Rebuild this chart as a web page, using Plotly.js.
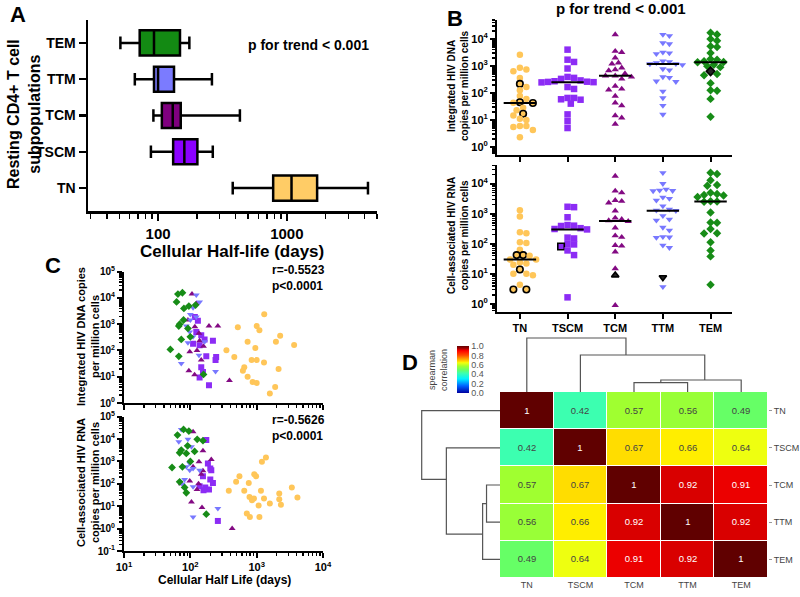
<!DOCTYPE html>
<html>
<head>
<meta charset="utf-8">
<script src="https://cdn.plot.ly/plotly-3.0.1.min.js"></script>
<style>
  html, body { margin: 0; padding: 0; background: #fff; }
  #fig { width: 800px; height: 597px; }
</style>
</head>
<body>
<div id="fig"></div>
<script>
var W = 800, H = 597;
var FONT = 'Liberation Sans, Arial, sans-serif';

// ---- data ----
var subsets = ['TN', 'TSCM', 'TCM', 'TTM', 'TEM'];
var dotColors = ['#ffc659', '#8c2cf5', '#830a83', '#7878ff', '#178c17'];
var boxColors = ['#ffcc66', '#8b00ff', '#7f007f', '#7b7bff', '#138a13'];
var symbols = ['circle', 'square', 'triangle-up', 'triangle-down', 'diamond'];

// A: cellular half-life (days), box stats per subset
var hlLow = [380, 88, 92, 66, 51];
var hlQ1 = [783, 131, 107, 93, 72];
var hlMed = [1087, 160, 130, 100, 93];
var hlQ3 = [1718, 202, 150, 133, 148];
var hlHigh = [4265, 266, 432, 262, 175];

// B: integrated HIV DNA per subset
var dnaTN = [2600, 850, 730, 630, 360, 215, 165, 125, 76, 60, 45, 43, 42, 28, 23, 17, 14.5, 11, 10, 6, 6, 5.5, 4.2, 2.3];
var dnaTSCM = [4000, 1700, 1400, 800, 390, 360, 330, 290, 270, 260, 255, 250, 245, 165, 140, 65, 65, 58, 56, 40, 16, 9, 5];
var dnaTCM = [14500, 3500, 3200, 2000, 1300, 1200, 850, 730, 670, 520, 430, 430, 390, 330, 180, 140, 130, 76, 43, 34, 14.5, 12, 7];
var dnaTTM = [14500, 13000, 7100, 6500, 3200, 3000, 2800, 1500, 1400, 1300, 1200, 1180, 1100, 770, 700, 390, 370, 270, 260, 115, 65, 34, 16];
var dnaTEM = [16800, 14500, 10000, 8500, 5300, 5000, 3000, 1800, 1700, 1500, 1400, 1370, 1100, 980, 900, 630, 500, 450, 230, 125, 120, 60, 13];
var dnaOutlined = [[5, 10, 12, 15], [], [], [], [15]];
var dnaDark = [[], [], [], [], [15]];

// B: cell-associated HIV RNA per subset
var rnaTN = [1300, 800, 240, 225, 112, 105, 63, 42, 42, 40, 30, 30, 24, 22, 20, 14, 10, 10, 9, 4.3, 3, 3];
var rnaTSCM = [1700, 1650, 760, 420, 400, 390, 330, 310, 300, 160, 150, 98, 95, 81, 60, 42, 1.65];
var rnaTCM = [17800, 5700, 5000, 2800, 2600, 2300, 1250, 720, 650, 590, 560, 340, 185, 165, 89, 85, 54, 15, 9, 0.9];
var rnaTTM = [23000, 10000, 6500, 6000, 5800, 5700, 3500, 3200, 2800, 1800, 1400, 1300, 1260, 850, 650, 600, 350, 280, 170, 165, 160, 89, 74, 7.6, 3.7];
var rnaTEM = [23000, 21000, 13000, 9000, 8500, 5000, 4500, 4200, 4000, 3600, 2600, 2560, 2500, 1100, 510, 500, 310, 225, 220, 112, 60, 38, 4.3];
var rnaOutlined = [[7, 8, 15, 20, 21], [13], [18], [23], []];
var rnaDark = [[], [], [18], [23], []];

// C: half-life vs DNA
var cDnaHl = [
  [1300, 520, 1000, 1100, 2260, 1950, 730, 955, 3670, 350, 460, 840, 1000, 1290, 2140, 650, 620, 730, 870, 1000, 1900, 1580],
  [123, 146, 164, 219, 110, 138, 174, 245, 240, 146, 155, 138, 191, 130, 117],
  [106, 123, 92, 117, 191, 260, 135, 138, 158, 98, 95, 116, 389, 146, 126],
  [123, 138, 110, 100, 123, 100, 87, 98, 110, 92, 135, 73, 240, 164],
  [76, 65, 62, 95, 80, 120, 79, 69, 67, 92, 100, 73, 50, 67, 158]
];
var cDnaVal = [
  [2400, 760, 850, 590, 360, 215, 215, 125, 160, 102, 57, 43, 43, 35, 19.5, 23, 17, 10, 6.3, 5.8, 4.1, 2.3],
  [510, 380, 263, 234, 182, 158, 60, 57, 43, 23, 15, 9.3, 4.7, 1350, 1900],
  [14000, 6200, 1450, 800, 850, 850, 450, 234, 145, 89, 17, 12, 7.2, 43, 100],
  [12900, 7080, 4270, 2340, 1900, 1450, 850, 510, 330, 195, 66, 32, 16, 214],
  [15800, 14100, 7080, 4900, 3980, 5370, 1450, 1000, 850, 690, 330, 263, 110, 60, 12.3]
];
// C: half-life vs RNA
var cRnaHl = [
  [1380, 1200, 550, 920, 980, 760, 490, 380, 650, 1160, 3390, 2190, 780, 850, 910, 1290, 1580, 2190, 2320, 1070, 4120, 710, 790, 1100],
  [174, 184, 200, 207, 155, 219, 168, 191, 158, 138, 260, 200],
  [110, 155, 135, 110, 146, 207, 155, 133, 98, 126, 104, 150, 427, 73],
  [73, 67, 92, 104, 98, 110, 87, 138, 98, 76, 110, 260, 110, 82],
  [79, 64, 95, 73, 69, 87, 127, 155, 116, 53, 76, 69, 82, 87, 174, 91, 100]
];
var cRnaVal = [
  [1510, 980, 219, 269, 219, 110, 123, 49, 49, 49, 69, 37, 26, 18.6, 21.9, 21.9, 13.2, 20.4, 11.7, 10.7, 24.5, 4.7, 3.3, 3.3],
  [9120, 813, 490, 407, 219, 110, 69, 56, 52, 79, 2.2, 158],
  [21400, 3020, 980, 575, 269, 1230, 380, 100, 135, 56, 15.5, 8.7, 1.0, 100],
  [26900, 7590, 9770, 4570, 813, 490, 575, 407, 407, 98, 74, 7.9, 3.3, 158],
  [26900, 15100, 22900, 3240, 2450, 2290, 9770, 8510, 2820, 537, 575, 123, 69, 40, 4.4, 5000, 1000]
];
var rDna = 'r=-0.5523<br>p<0.0001';
var rRna = 'r=-0.5626<br>p<0.0001';

// D: spearman correlation matrix
var corr = [
  [1, 0.42, 0.57, 0.56, 0.49],
  [0.42, 1, 0.67, 0.66, 0.64],
  [0.57, 0.67, 1, 0.92, 0.91],
  [0.56, 0.66, 0.92, 1, 0.92],
  [0.49, 0.64, 0.91, 0.92, 1]
];
// dendrogram: nodes 0-4 are leaves, merges are nodes 5..8
var mergePairs = [[2, 3], [5, 4], [1, 6], [0, 7]];
var mergeHeights = [0.172, 0.222, 0.685, 1.0];
var mergePos = [2.5, 3.32, 1.85, 0.9];
var corrTicks = [0, 0.2, 0.4, 0.6, 0.8, 1.0];

// ---- helpers ----
function xd(a, b) { return [a / W, b / W]; }
function yd(top, bottom) { return [1 - bottom / H, 1 - top / H]; }
function px(x) { return x / W; }
function py(y) { return 1 - y / H; }

function logMinor(lo, hi) {
  var out = [];
  for (var k = lo; k <= hi; k++) {
    for (var m = 2; m <= 9; m++) out.push(m * Math.pow(10, k));
  }
  return out;
}
function pow10Labels(lo, hi) {
  var vals = [], txt = [];
  for (var k = lo; k <= hi; k++) { vals.push(Math.pow(10, k)); txt.push('10<sup>' + k + '</sup>'); }
  return {vals: vals, txt: txt};
}

function bfont(size) { return {family: FONT, size: size, color: '#000', weight: 'bold'}; }

function axis(extra) {
  var a = {
    showline: true, linecolor: '#000', linewidth: 2, mirror: false,
    ticks: 'outside', tickcolor: '#000', tickwidth: 2, ticklen: 5,
    showgrid: false, zeroline: false, tickfont: bfont(11), fixedrange: true
  };
  for (var k in extra) a[k] = extra[k];
  return a;
}

// simple beeswarm: horizontal offsets (px) so markers do not overlap
function swarm(vals, pxPerDec, diam) {
  var order = vals.map(function(v, i) { return i; }).sort(function(a, b) { return vals[b] - vals[a]; });
  var placed = [], out = new Array(vals.length);
  order.forEach(function(i) {
    var y = Math.log10(vals[i]) * pxPerDec;
    for (var k = 0; k < 40; k++) {
      var cand = k === 0 ? 0 : (k % 2 ? 1 : -1) * Math.ceil(k / 2) * diam * 0.5;
      var ok = placed.every(function(p) {
        return (p.x - cand) * (p.x - cand) + (p.y - y) * (p.y - y) >= diam * diam * 0.8;
      });
      if (ok) break;
    }
    placed.push({x: cand, y: y});
    out[i] = cand;
  });
  return out;
}

function median(vals) {
  var s = vals.slice().sort(function(a, b) { return a - b; });
  var n = s.length;
  return n % 2 ? s[(n - 1) / 2] : (s[n / 2 - 1] + s[n / 2]) / 2;
}

var data = [];

// ---- A: box plots ----
subsets.forEach(function(s, i) {
  data.push({
    type: 'box', orientation: 'h', xaxis: 'x', yaxis: 'y',
    y: [s], q1: [hlQ1[i]], median: [hlMed[i]], q3: [hlQ3[i]],
    lowerfence: [hlLow[i]], upperfence: [hlHigh[i]],
    width: 0.69, whiskerwidth: 0.5,
    fillcolor: boxColors[i], line: {color: '#000', width: 2.5},
    hoverinfo: 'skip', showlegend: false
  });
});

// ---- B: dot plots ----
var bXmin = -0.48, bXmax = 4.45;
var bPxPerUnit = (732 - 497) / (bXmax - bXmin);
function dotPanel(groups, outlined, dark, xa, ya, pxPerDec) {
  var mx = [], my = [];
  groups.forEach(function(vals, g) {
    var off = swarm(vals, pxPerDec, 6.5);
    var lineW = vals.map(function(v, i) { return outlined[g].indexOf(i) >= 0 ? 1.6 : 0; });
    var fill = vals.map(function(v, i) { return dark[g].indexOf(i) >= 0 ? '#222' : dotColors[g]; });
    data.push({
      type: 'scatter', mode: 'markers', xaxis: xa, yaxis: ya,
      x: off.map(function(o) { return g + o / bPxPerUnit; }), y: vals,
      marker: {symbol: symbols[g], size: 6.5, color: fill, line: {color: '#000', width: lineW}},
      hoverinfo: 'skip', showlegend: false
    });
    var m = median(vals);
    mx.push(g - 0.34, g + 0.34, null);
    my.push(m, m, null);
  });
  data.push({
    type: 'scatter', mode: 'lines', xaxis: xa, yaxis: ya, x: mx, y: my,
    line: {color: '#000', width: 2}, hoverinfo: 'skip', showlegend: false
  });
}
dotPanel([dnaTN, dnaTSCM, dnaTCM, dnaTTM, dnaTEM], dnaOutlined, dnaDark, 'x2', 'y2', 135 / 5.0);
dotPanel([rnaTN, rnaTSCM, rnaTCM, rnaTTM, rnaTEM], rnaOutlined, rnaDark, 'x3', 'y3', 147 / 4.89);

// ---- C: scatter ----
[[cDnaHl, cDnaVal, 'x4', 'y4'], [cRnaHl, cRnaVal, 'x5', 'y5']].forEach(function(p) {
  subsets.forEach(function(s, g) {
    data.push({
      type: 'scatter', mode: 'markers', xaxis: p[2], yaxis: p[3],
      x: p[0][g], y: p[1][g],
      marker: {symbol: symbols[g], size: 6, color: dotColors[g]},
      hoverinfo: 'skip', showlegend: false
    });
  });
});

// ---- D: heatmap + dendrograms ----
data.push({
  type: 'heatmap', xaxis: 'x6', yaxis: 'y6',
  x: [0, 1, 2, 3, 4], y: [0, 1, 2, 3, 4], z: corr, zmin: 0, zmax: 1,
  xgap: 1, ygap: 1,
  texttemplate: '%{z}', textfont: {family: FONT, size: 9.5},
  colorscale: [
    [0, '#0000a0'], [0.15, '#0060ff'], [0.3, '#00f0ff'], [0.42, '#3cffb0'],
    [0.49, '#66ff66'], [0.57, '#a0ff30'], [0.64, '#eeff10'], [0.66, '#ffee00'],
    [0.67, '#ffdd00'], [0.8, '#ff5000'], [0.9, '#ff0000'], [0.95, '#a00000'], [1, '#600000']
  ],
  colorbar: {
    x: px(457), xanchor: 'left', y: py(393), yanchor: 'bottom',
    len: 47, lenmode: 'pixels', thickness: 12, xpad: 0, ypad: 0,
    outlinewidth: 0, ticks: '', tickvals: corrTicks,
    ticktext: corrTicks.map(function(t) { return t.toFixed(1); }),
    tickfont: {family: FONT, size: 9, color: '#555'}
  },
  hoverinfo: 'skip'
});

function nodePos(n) { return n < 5 ? n : mergePos[n - 5]; }
function nodeH(n) { return n < 5 ? 0 : mergeHeights[n - 5]; }
var segP = [], segH = [];
mergePairs.forEach(function(pair, k) {
  var h = mergeHeights[k];
  var a = pair[0], b = pair[1];
  segP.push(nodePos(a), nodePos(a), nodePos(b), nodePos(b), null);
  segH.push(nodeH(a), h, h, nodeH(b), null);
});
data.push({
  type: 'scatter', mode: 'lines', xaxis: 'x7', yaxis: 'y7', x: segP, y: segH,
  line: {color: '#555', width: 1.2}, hoverinfo: 'skip', showlegend: false
});
data.push({
  type: 'scatter', mode: 'lines', xaxis: 'x8', yaxis: 'y8', x: segH, y: segP,
  line: {color: '#555', width: 1.2}, hoverinfo: 'skip', showlegend: false
});

// ---- axes ----
var aMinor = [30, 40, 50, 60, 70, 80, 90, 200, 300, 400, 500, 600, 700, 800, 900, 2000, 3000, 4000, 5000];
var bY = pow10Labels(0, 4);
var cY4 = pow10Labels(0, 5);
var cY5 = pow10Labels(-1, 5);
var cX = pow10Labels(1, 4);
var minorStyle = function(vals, len) {
  return {tickvals: vals, ticks: 'outside', ticklen: len, tickwidth: 1.5, tickcolor: '#000'};
};

var layout = {
  width: W, height: H,
  margin: {l: 0, r: 0, t: 0, b: 0},
  paper_bgcolor: '#fff', plot_bgcolor: '#fff',
  showlegend: false,
  font: {family: FONT, color: '#000'},

  xaxis: axis({type: 'log', range: [1.456, 3.70], domain: xd(88, 377), anchor: 'y',
    tickvals: [100, 1000], ticktext: ['100', '1000'], tickfont: bfont(15),
    linewidth: 2.5, ticklen: 7, tickwidth: 2.5, minor: minorStyle(aMinor, 5)}),
  yaxis: axis({type: 'category', categoryorder: 'array', categoryarray: subsets,
    range: [-0.63, 4.63], domain: yd(20, 211), anchor: 'x',
    tickfont: bfont(14), linewidth: 2.5, ticklen: 7, tickwidth: 2.5}),

  xaxis2: axis({range: [bXmin, bXmax], domain: xd(497, 732), anchor: 'y2',
    tickvals: [0, 1, 2, 3, 4], showticklabels: false}),
  yaxis2: axis({type: 'log', range: [-0.3, 4.7], domain: yd(20, 155), anchor: 'x2',
    tickvals: bY.vals, ticktext: bY.txt, minor: minorStyle(logMinor(-1, 4), 3)}),
  xaxis3: axis({range: [bXmin, bXmax], domain: xd(497, 732), anchor: 'y3',
    tickvals: [0, 1, 2, 3, 4], ticktext: subsets}),
  yaxis3: axis({type: 'log', range: [-0.27, 4.62], domain: yd(165, 312), anchor: 'x3',
    tickvals: bY.vals, ticktext: bY.txt, minor: minorStyle(logMinor(-1, 4), 3)}),

  xaxis4: axis({type: 'log', range: [1, 4], domain: xd(124, 323), anchor: 'y4',
    tickvals: cX.vals, showticklabels: false, minor: minorStyle(logMinor(1, 3), 3)}),
  yaxis4: axis({type: 'log', range: [0, 5], domain: yd(271.7, 403), anchor: 'x4',
    tickvals: cY4.vals, ticktext: cY4.txt, tickfont: bfont(10),
    minor: minorStyle(logMinor(0, 4), 3)}),
  xaxis5: axis({type: 'log', range: [1, 4], domain: xd(124, 323), anchor: 'y5',
    tickvals: cX.vals, ticktext: cX.txt, minor: minorStyle(logMinor(1, 3), 3)}),
  yaxis5: axis({type: 'log', range: [-1, 5], domain: yd(416.7, 551), anchor: 'x5',
    tickvals: cY5.vals, ticktext: cY5.txt, tickfont: bfont(10),
    minor: minorStyle(logMinor(-1, 4), 3)}),

  xaxis6: {range: [-0.5, 4.5], domain: xd(500, 768), anchor: 'y6', showline: false,
    showgrid: false, zeroline: false, ticks: '', tickvals: [0, 1, 2, 3, 4], ticktext: subsets,
    tickfont: {family: FONT, size: 9, color: '#444'}, fixedrange: true},
  yaxis6: {range: [4.5, -0.5], domain: yd(392, 578), anchor: 'x6', side: 'right',
    showline: false, showgrid: false, zeroline: false, ticks: 'outside', ticklen: 3,
    tickcolor: '#999', tickvals: [0, 1, 2, 3, 4], ticktext: subsets,
    tickfont: {family: FONT, size: 9, color: '#444'}, fixedrange: true},

  xaxis7: {range: [-0.5, 4.5], domain: xd(500, 768), anchor: 'y7', visible: false, fixedrange: true},
  yaxis7: {range: [0, 62 / 54], domain: yd(330, 392), anchor: 'x7', visible: false, fixedrange: true},
  xaxis8: {range: [90 / 78.3, 0], domain: xd(410, 500), anchor: 'y8', visible: false, fixedrange: true},
  yaxis8: {range: [4.5, -0.5], domain: yd(392, 578), anchor: 'x8', visible: false, fixedrange: true},

  annotations: []
};

function note(text, x, y, size, opts) {
  var a = {text: text, xref: 'paper', yref: 'paper', x: px(x), y: py(y),
    xanchor: 'center', yanchor: 'middle', showarrow: false, font: bfont(size)};
  for (var k in opts) a[k] = opts[k];
  layout.annotations.push(a);
}
note('A', 18, 15, 22);
note('B', 455, 18, 22);
note('C', 53, 265, 22);
note('D', 410, 362, 22);
note('p for trend < 0.001', 246, 45, 14, {xanchor: 'left'});
note('Resting CD4+ T cell<br>subpopulations', 24, 114, 16, {textangle: -90});
note('Cellular Half-life (days)', 232, 251, 17);
note('p for trend < 0.001', 621, 8, 15);
note('Integrated HIV DNA<br>copies per million cells', 458, 86, 10, {textangle: -90});
note('Cell-associated HIV RNA<br>copies per million cells', 458, 236, 10, {textangle: -90});
note('Integrated HIV DNA copies<br>per million cells', 88, 337, 11, {textangle: -90});
note('Cell-associated HIV RNA<br>copies per million cells', 88, 483, 11, {textangle: -90});
note('Cellular Half Life (days)', 224, 580, 12);
note(rDna, 270, 278, 12, {xanchor: 'left', align: 'left'});
note(rRna, 270, 428, 12, {xanchor: 'left', align: 'left'});
note('spearman<br>correlation', 438, 370, 9,
  {textangle: -90, font: {family: FONT, size: 9, color: '#444'}});

Plotly.newPlot('fig', data, layout, {staticPlot: true});
</script>
</body>
</html>
